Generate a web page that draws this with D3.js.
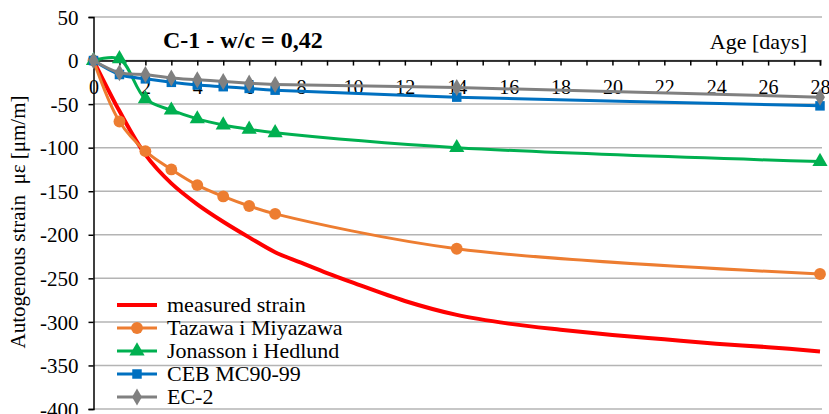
<!DOCTYPE html>
<html>
<head>
<meta charset="utf-8">
<script src="https://cdn.jsdelivr.net/npm/d3@7"></script>
<style>
  body { margin: 0; background: #fff; }
  text { font-family: "Liberation Serif", "Times New Roman", serif; fill: #000; }
</style>
</head>
<body>
<div id="chart"></div>
<script>
// measured strain (smooth, no markers)
let measuredDays = [0, 1, 2, 3, 4, 5, 6, 7, 8, 9, 10, 12, 14, 16, 18, 20, 22, 24, 26, 28]
let measuredStrain = [0, -58, -108, -141, -165, -185, -203, -220, -232, -244, -255, -276, -292, -302, -309, -315, -320, -325, -329, -334]

// model predictions
let modelDays = [0, 1, 2, 3, 4, 5, 6, 7, 14, 28]
let tazawa = [0, -70, -104, -125, -143, -156, -167, -176, -216, -245]
let jonasson = [0, 2, -44, -57, -67, -74, -79, -83, -100, -116]
let ceb = [0, -16, -21, -25, -28, -30, -32, -34, -42, -52]
let ec2 = [0, -14, -16, -20, -22, -24, -26, -27.5, -31, -42]

let seriesNames = ["measured strain", "Tazawa i Miyazawa", "Jonasson i Hedlund", "CEB MC90-99", "EC-2"]
let yTicks = [50, 0, -50, -100, -150, -200, -250, -300, -350, -400]

let width = 829,
    height = 414
let margin = {top: 17, left: 93.5, right: 9, bottom: 5}
let serif = '"Liberation Serif", "Times New Roman", serif'

let series = [
  {name: seriesNames[0], days: measuredDays, values: measuredStrain, color: "#ff0000", width: 4, marker: null},
  {name: seriesNames[1], days: modelDays, values: tazawa, color: "#ed7d31", width: 3, marker: "circle"},
  {name: seriesNames[2], days: modelDays, values: jonasson, color: "#00b050", width: 3, marker: "triangle"},
  {name: seriesNames[3], days: modelDays, values: ceb, color: "#0070c0", width: 3, marker: "square"},
  {name: seriesNames[4], days: modelDays, values: ec2, color: "#808080", width: 3, marker: "diamond"}
]

let svg = d3.select("#chart")
  .append("svg")
    .attr("width", width)
    .attr("height", height)

let x = d3.scaleLinear().domain([0, 28]).range([margin.left, width - margin.right])
let y = d3.scaleLinear().domain([50, -400]).range([margin.top, height - margin.bottom])

// horizontal gridlines
svg.append("g")
  .selectAll("line")
  .data(yTicks)
  .enter()
  .append("line")
    .attr("x1", x(0))
    .attr("x2", x(28) + 2)
    .attr("y1", d => y(d))
    .attr("y2", d => y(d))
    .attr("stroke", "#b4b4b4")
    .attr("stroke-width", 1.5)

// y axis
let yAxis = svg.append("g")
  .attr("transform", "translate(" + x(0) + ",0)")
  .call(d3.axisLeft(y).tickValues(yTicks).tickSize(5).tickPadding(10).tickFormat(d => String(d)))
yAxis.attr("font-family", serif)
yAxis.select(".domain").attr("stroke", "#000").attr("stroke-width", 1.5)
yAxis.selectAll(".tick line").attr("stroke", "#000").attr("stroke-width", 1.5)
yAxis.selectAll("text").style("font-size", "21px").style("font-family", serif).attr("dy", "0.34em")

// x axis sitting on zero
let xAxis = svg.append("g")
  .attr("transform", "translate(0," + y(0) + ")")
  .call(d3.axisBottom(x).tickValues(d3.range(0, 29, 1)).tickSize(5).tickPadding(14)
    .tickFormat(d => d % 2 === 0 ? d : ""))
xAxis.attr("font-family", serif)
xAxis.select(".domain").attr("stroke", "#000").attr("stroke-width", 1.5)
xAxis.selectAll(".tick line").attr("stroke", "#000").attr("stroke-width", 1.5)
xAxis.selectAll("text").style("font-size", "20px").style("font-family", serif)

// lines
let line = d3.line()
  .x(d => x(d[0]))
  .y(d => y(d[1]))
  .curve(d3.curveCatmullRom.alpha(0.5))

let symbolFor = {
  circle: d3.symbol().type(d3.symbolCircle).size(110),
  triangle: d3.symbol().type(d3.symbolTriangle).size(100),
  square: d3.symbol().type(d3.symbolSquare).size(90),
  diamond: d3.symbol().type(d3.symbolDiamond).size(85)
}

series.forEach(function(s) {
  let pts = s.days.map((d, i) => [d, s.values[i]])
  svg.append("path")
    .datum(pts)
    .attr("d", line)
    .attr("fill", "none")
    .attr("stroke", s.color)
    .attr("stroke-width", s.width)
    .attr("stroke-linejoin", "round")
  if (s.marker) {
    svg.append("g")
      .selectAll("path")
      .data(pts)
      .enter()
      .append("path")
        .attr("d", symbolFor[s.marker])
        .attr("transform", d => "translate(" + x(d[0]) + "," + y(d[1]) + ")")
        .attr("fill", s.color)
  }
})

// title and axis titles
svg.append("text")
  .attr("x", 163)
  .attr("y", 48)
  .style("font-size", "24px")
  .style("font-weight", "bold")
  .text("C-1 - w/c = 0,42")

svg.append("text")
  .attr("x", 807)
  .attr("y", 49)
  .attr("text-anchor", "end")
  .style("font-size", "22px")
  .text("Age [days]")

svg.append("text")
  .attr("transform", "translate(25,222) rotate(-90)")
  .attr("text-anchor", "middle")
  .style("font-size", "21px")
  .style("white-space", "pre")
  .text("Autogenous strain  \u03bc\u03b5 [\u03bcm/m]")

// legend
let legend = svg.append("g")
  .selectAll("g")
  .data(series)
  .enter()
  .append("g")
    .attr("transform", (d, i) => "translate(117," + (305 + i * 23) + ")")

legend.append("line")
  .attr("x1", 0)
  .attr("x2", 40)
  .attr("stroke", d => d.color)
  .attr("stroke-width", d => d.width)

legend.filter(d => d.marker)
  .append("path")
    .attr("d", d => symbolFor[d.marker]())
    .attr("transform", "translate(20,0)")
    .attr("fill", d => d.color)

legend.append("text")
  .attr("x", 50)
  .attr("dy", "0.34em")
  .style("font-size", "22px")
  .text(d => d.name)
</script>
</body>
</html>
